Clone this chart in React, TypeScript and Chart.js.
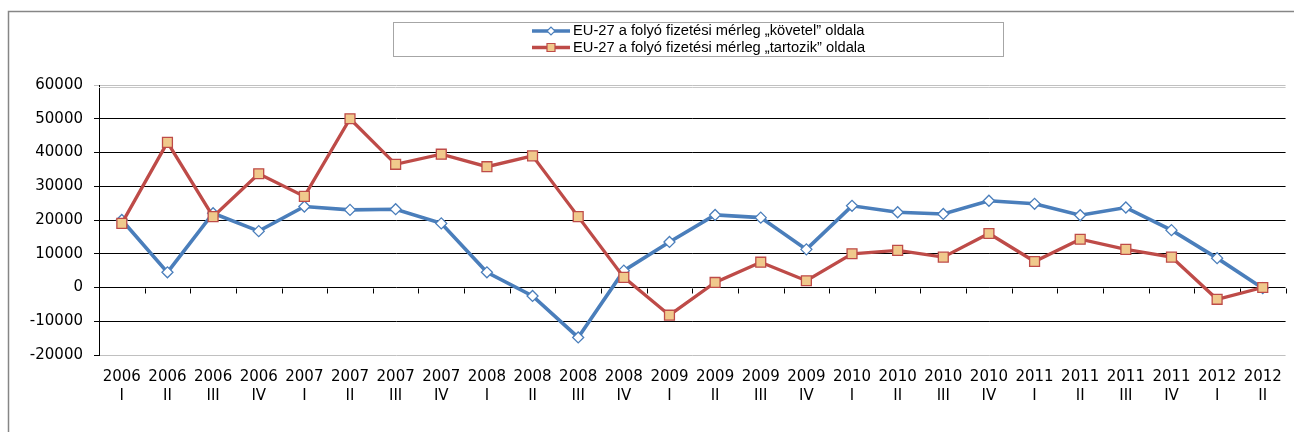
import { useEffect, useRef } from 'react';
import { Chart, registerables } from 'chart.js';

Chart.register(...registerables);

const years = ['2006','2006','2006','2006','2007','2007','2007','2007','2008','2008','2008','2008','2009','2009','2009','2009','2010','2010','2010','2010','2011','2011','2011','2011','2012','2012'];
const quarters = ['I','II','III','IV','I','II','III','IV','I','II','III','IV','I','II','III','IV','I','II','III','IV','I','II','III','IV','I','II'];

const kovetel = [20000, 4500, 22000, 16700, 24000, 23000, 23200, 19000, 4500, -2500, -14800, 5000, 13500, 21500, 20700, 11300, 24200, 22300, 21800, 25700, 24800, 21400, 23700, 17000, 8700, -200];
const tartozik = [19000, 43000, 21000, 33700, 27000, 50000, 36500, 39500, 35800, 39000, 21000, 3000, -8200, 1500, 7500, 2000, 10000, 11000, 9000, 16000, 7700, 14300, 11300, 9000, -3500, 0];

const seriesNames = [
  'EU-27 a folyó fizetési mérleg \u201Ek\u00f6vetel\u201D oldala',
  'EU-27 a folyó fizetési mérleg \u201Etartozik\u201D oldala',
];

const yTicks = { min: -20000, max: 60000, step: 10000 };

const FONT = '"Liberation Sans", Arial, sans-serif';
const AXIS_FONT = '"DejaVu Sans", "Liberation Sans", Arial, sans-serif';
const BLUE = '#4A7EBB';
const RED = '#BE4B48';
const TAN = '#F0C98C';

function diamond(ctx: CanvasRenderingContext2D, x: number, y: number, r: number) {
  ctx.beginPath();
  ctx.moveTo(x - r, y);
  ctx.lineTo(x, y - r);
  ctx.lineTo(x + r, y);
  ctx.lineTo(x, y + r);
  ctx.closePath();
}

const decorPlugin = {
  id: 'decor',
  beforeDatasetsDraw(chart: any) {
    const { ctx, scales } = chart;
    const x = scales.x;
    const y = scales.y;
    const n = years.length;
    const step = (x.right - x.left) / n;
    const y0 = Math.round(y.getPixelForValue(0)) + 0.5;
    ctx.save();
    ctx.strokeStyle = '#000';
    ctx.lineWidth = 1;
    ctx.beginPath();
    for (let k = 1; k <= n; k++) {
      const px = Math.round(x.left + k * step) + 0.5;
      ctx.moveTo(px, y0);
      ctx.lineTo(px, y0 + 5);
    }
    ctx.stroke();
    // double line at top of plot area
    const yt = Math.round(y.getPixelForValue(yTicks.max)) + 2.5;
    ctx.strokeStyle = '#C8C8C8';
    ctx.beginPath();
    ctx.moveTo(x.left, yt);
    ctx.lineTo(x.right, yt);
    ctx.stroke();
    ctx.restore();
  },
  afterDraw(chart: any) {
    const { ctx } = chart;
    ctx.save();
    // outer frame
    ctx.strokeStyle = '#868686';
    ctx.lineWidth = 1.5;
    ctx.beginPath();
    ctx.moveTo(8.5, chart.height);
    ctx.lineTo(8.5, 11.5);
    ctx.lineTo(chart.width, 11.5);
    ctx.stroke();

    // legend box
    const boxL = 393, boxT = 22, boxR = 1003, boxB = 56;
    ctx.strokeStyle = '#A6A6A6';
    ctx.lineWidth = 1;
    ctx.strokeRect(boxL + 0.5, boxT + 0.5, boxR - boxL, boxB - boxT);

    const rows = [31, 47.5];
    const lineL = 532, lineR = 570, mx = 551, textX = 573;
    ctx.font = `14.7px ${FONT}`;
    ctx.textBaseline = 'middle';
    ctx.textAlign = 'left';
    chart.data.datasets.forEach((ds: any, i: number) => {
      const ry = rows[i];
      ctx.strokeStyle = ds.borderColor;
      ctx.lineWidth = 3.5;
      ctx.beginPath();
      ctx.moveTo(lineL, ry);
      ctx.lineTo(lineR, ry);
      ctx.stroke();
      ctx.lineWidth = 1.2;
      if (ds.pointStyle === 'rectRot') {
        diamond(ctx, mx, ry, 4);
        ctx.fillStyle = '#fff';
        ctx.fill();
        ctx.strokeStyle = ds.pointBorderColor;
        ctx.stroke();
      } else {
        ctx.beginPath();
        ctx.rect(mx - 4, ry - 4, 8, 8);
        ctx.fillStyle = ds.pointBackgroundColor;
        ctx.fill();
        ctx.strokeStyle = ds.pointBorderColor;
        ctx.stroke();
      }
      ctx.fillStyle = '#000';
      ctx.fillText(seriesNames[i], textX, ry);
    });
    ctx.restore();
  },
};

export default function App() {
  const ref = useRef<HTMLCanvasElement | null>(null);

  useEffect(() => {
    if (!ref.current) return;
    const labels = years.map((yv, i) => [yv, quarters[i]]);
    const chart = new Chart(ref.current, {
      type: 'line',
      data: {
        labels,
        datasets: [
          {
            label: seriesNames[0],
            data: kovetel,
            borderColor: BLUE,
            borderWidth: 3.6,
            pointStyle: 'rectRot',
            pointRadius: 5.5,
            pointBorderWidth: 1.3,
            pointBackgroundColor: '#FFFFFF',
            pointBorderColor: BLUE,
            tension: 0,
            order: 1,
          },
          {
            label: seriesNames[1],
            data: tartozik,
            borderColor: RED,
            borderWidth: 3.3,
            pointStyle: 'rect',
            pointRadius: 7,
            pointBorderWidth: 1.3,
            pointBackgroundColor: TAN,
            pointBorderColor: RED,
            tension: 0,
            order: 0,
          },
        ],
      },
      options: {
        responsive: true,
        maintainAspectRatio: false,
        animation: false,
        events: [],
        layout: { padding: { left: 0, right: 6, top: 85, bottom: 0 } },
        plugins: {
          legend: { display: false },
          tooltip: { enabled: false },
          title: { display: false },
        },
        scales: {
          x: {
            type: 'category',
            offset: true,
            grid: { display: false, drawTicks: false },
            border: { display: false },
            ticks: {
              autoSkip: false,
              maxRotation: 0,
              minRotation: 0,
              padding: 12,
              color: '#000',
              font: { family: AXIS_FONT, size: 15, lineHeight: 1.3 },
            },
            afterFit: (s: any) => { s.height = 77; },
          },
          y: {
            min: yTicks.min,
            max: yTicks.max,
            ticks: {
              stepSize: yTicks.step,
              padding: 11,
              color: '#000',
              font: { family: AXIS_FONT, size: 15 },
              callback: (v: any) => String(v),
            },
            grid: {
              color: (c: any) => (c.tick && (c.tick.value === yTicks.max || c.tick.value === yTicks.min) ? '#C0C0C0' : '#000000'),
              tickColor: (c: any) => (c.tick && c.tick.value === yTicks.max ? '#C0C0C0' : '#000000'),
              tickLength: 5,
              lineWidth: 1,
            },
            border: { display: true, color: '#000', width: 1 },
            afterFit: (s: any) => { s.width = 99; },
          },
        },
      },
      plugins: [decorPlugin],
    });
    return () => chart.destroy();
  }, []);

  return (
    <div style={{ position: 'fixed', left: 0, top: 0, width: 1294, height: 432, background: '#fff' }}>
      <canvas ref={ref} />
    </div>
  );
}
